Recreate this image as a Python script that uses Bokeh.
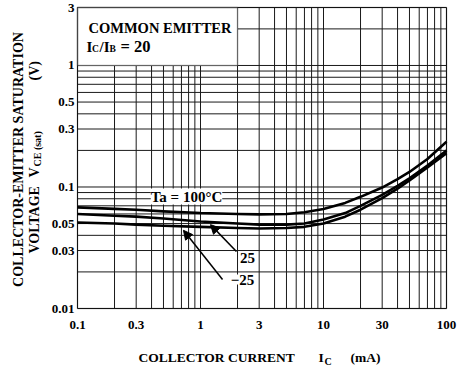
import math
from bokeh.plotting import figure
from bokeh.models import Label, Arrow, NormalHead, BoxAnnotation, ColumnDataSource
from bokeh.core.properties import value
from bokeh.embed import file_html
from bokeh.resources import INLINE

# ---- data ----
ic_ma = [0.1, 0.2, 0.3, 0.5, 1, 2, 3, 5, 7, 10, 15, 20, 30, 40, 50, 70, 100]
vce_ta100 = [0.068, 0.066, 0.065, 0.063, 0.061, 0.060, 0.0595, 0.060, 0.062, 0.066,
             0.074, 0.083, 0.099, 0.116, 0.133, 0.170, 0.236]
vce_ta25 = [0.060, 0.058, 0.057, 0.055, 0.052, 0.050, 0.049, 0.049, 0.050, 0.054,
            0.061, 0.070, 0.086, 0.102, 0.118, 0.150, 0.200]
vce_tam25 = [0.051, 0.050, 0.049, 0.048, 0.047, 0.046, 0.0455, 0.046, 0.047, 0.050,
             0.057, 0.065, 0.081, 0.097, 0.113, 0.145, 0.190]

x_tick_values = [0.1, 0.3, 1, 3, 10, 30, 100]
x_tick_labels = ["0.1", "0.3", "1", "3", "10", "30", "100"]
y_tick_values = [0.01, 0.03, 0.05, 0.1, 0.3, 0.5, 1, 3]
y_tick_labels = ["0.01", "0.03", "0.05", "0.1", "0.3", "0.5", "1", "3"]

X_MIN, X_MAX = 0.1, 100
Y_MIN, Y_MAX = 0.01, 3

FONT = "Liberation Serif"
W, H = 461, 366
# pixel box of the plotting area inside the canvas
PX_L, PX_R, PX_T, PX_B = 77, 446, 7, 308

dec_x = (PX_R - PX_L) / (math.log10(X_MAX) - math.log10(X_MIN))
dec_y = (PX_B - PX_T) / (math.log10(Y_MAX) - math.log10(Y_MIN))
x_start = 10 ** (math.log10(X_MIN) - PX_L / dec_x)
x_end = 10 ** (math.log10(X_MAX) + (W - PX_R) / dec_x)
y_start = 10 ** (math.log10(Y_MIN) - (H - PX_B) / dec_y)
y_end = 10 ** (math.log10(Y_MAX) + PX_T / dec_y)

def decade_lines(lo_exp, hi_exp, top):
    vals = []
    for e in range(lo_exp, hi_exp + 1):
        for m in range(1, 10):
            v = round(m * 10 ** e, 6)
            if v <= top:
                vals.append(v)
    return vals

x_grid = decade_lines(-1, 2, X_MAX)
y_grid = decade_lines(-2, 0, Y_MAX)

p = figure(width=W, height=H, x_axis_type="log", y_axis_type="log",
           x_range=(x_start, x_end), y_range=(y_start, y_end),
           x_axis_location=None, y_axis_location=None,
           output_backend="svg", toolbar_location=None, min_border=0)
p.background_fill_color = "white"
p.border_fill_color = "white"
p.outline_line_color = None
p.grid.visible = False

GRID = "#1a1a1a"
p.segment(x0=x_grid, y0=[Y_MIN] * len(x_grid), x1=x_grid, y1=[Y_MAX] * len(x_grid),
          line_color=GRID, line_width=1)
p.segment(x0=[X_MIN] * len(y_grid), y0=y_grid, x1=[X_MAX] * len(y_grid), y1=y_grid,
          line_color=GRID, line_width=1)

src = ColumnDataSource(dict(ic=ic_ma, t100=vce_ta100, t25=vce_ta25, tm25=vce_tam25))
for col in ("t100", "t25", "tm25"):
    p.line("ic", col, source=src, line_color="black", line_width=2.6, line_join="round")

# tick labels
p.text(x=x_tick_values, y=[Y_MIN] * len(x_tick_values), text=x_tick_labels,
       y_offset=16, text_align="center", text_baseline="middle",
       text_font=value(FONT), text_font_style="bold", text_font_size=value("13px"),
       text_color="black")
p.text(x=[X_MIN] * len(y_tick_values), y=y_tick_values, text=y_tick_labels,
       x_offset=-3, text_align="right", text_baseline="middle",
       text_font=value(FONT), text_font_style="bold", text_font_size=value("13px"),
       text_color="black")

# legend box and frame
p.add_layout(BoxAnnotation(left=X_MIN, right=2, bottom=1, top=Y_MAX, fill_color="white",
                           fill_alpha=1, line_color="black", line_width=1.5))
p.add_layout(BoxAnnotation(left=X_MIN, right=X_MAX, bottom=Y_MIN, top=Y_MAX, fill_alpha=0,
                           line_color="black", line_width=1.5))

def lab(text, x, y, size="13px", align="left", baseline="alphabetic", angle=0, bg=None):
    kw = {}
    if bg:
        kw["background_fill_color"] = bg
    p.add_layout(Label(text=text, x=x, y=y, x_units="canvas", y_units="canvas", angle=angle,
                       text_font=FONT, text_font_style="bold", text_font_size=size,
                       text_align=align, text_baseline=baseline, text_color="black", **kw))

# legend text
lab("COMMON EMITTER", 88, 27, size="14.5px")
lab("I", 86, 46, size="15px")
lab("C", 91.5, 48.5, size="9.5px")
lab("/I", 99, 46, size="15px")
lab("B", 109, 48.5, size="9.5px")
lab("= 20", 120, 46, size="16.5px")

# curve annotations
lab("Ta = 100°C", 186, 196, size="15px", align="center", baseline="middle", bg="white")
lab("25", 247, 257, size="15px", align="center", baseline="middle", bg="white")
lab("\u221225", 242, 279, size="15px", align="center", baseline="middle", bg="white")

p.add_layout(Arrow(end=NormalHead(size=9, fill_color="black", line_color="black"),
                   x_start=1.96, y_start=0.0294, x_end=1.206, y_end=0.049,
                   line_color="black", line_width=1.5))
p.add_layout(Arrow(end=NormalHead(size=9, fill_color="black", line_color="black"),
                   x_start=1.51, y_start=0.0173, x_end=0.727, y_end=0.044,
                   line_color="black", line_width=1.5))

# x axis title
lab("COLLECTOR CURRENT", 138, 357, size="13.5px")
lab("I", 318, 357, size="13.5px")
lab("C", 324, 361, size="10px")
lab("(mA)", 350, 357, size="13.5px")

# y axis title (rotated)
R = math.pi / 2
lab("COLLECTOR-EMITTER SATURATION", 18, 159, size="14px", align="center", angle=R)
lab("VOLTAGE", 34, 253, size="14px", angle=R)
lab("V", 34, 177, size="14px", angle=R)
lab("CE (sat)", 37, 166, size="10px", angle=R)
lab("(V)", 34, 80, size="14px", angle=R)

open("out.html", "w").write(file_html(p, INLINE))
